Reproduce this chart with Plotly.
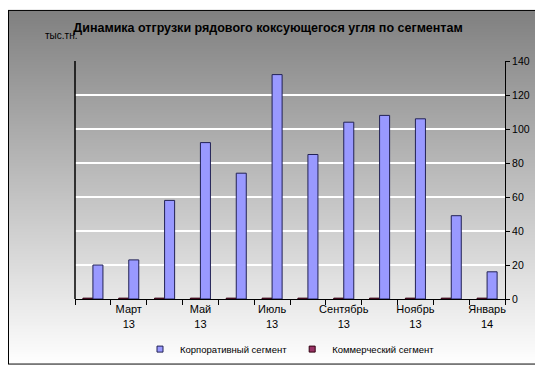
import base64, struct, zlib
import plotly.graph_objects as go

categories = ["Февраль 13", "Март 13", "Апрель 13", "Май 13", "Июнь 13", "Июль 13",
              "Август 13", "Сентябрь 13", "Октябрь 13", "Ноябрь 13", "Декабрь 13", "Январь 14"]
tick_text = ["", "Март<br>13", "", "Май<br>13", "", "Июль<br>13",
             "", "Сентябрь<br>13", "", "Ноябрь<br>13", "", "Январь<br>14"]
corporate = [20, 23, 58, 92, 74, 132, 85, 104, 108, 106, 49, 16]
commercial = [0.5, 0.5, 0.5, 0.5, 0.5, 0.5, 0.5, 0.5, 0.5, 0.5, 0.5, 0.5]
y_ticks = [0, 20, 40, 60, 80, 100, 120, 140]

W, H = 543, 368
ML, MR, MT, MB = 67, 46, 53, 68
PW, PH = W - ML - MR, H - MT - MB

CORP_COLOR, CORP_LINE = "#9999FF", "#222255"
COMM_COLOR, COMM_LINE = "#993366", "#330011"


def make_bg_png(w, h):
    rows = []
    for y in range(h):
        g = int(round(128 + 127 * y / (h - 1)))
        if y == 0 or y == h - 1:
            row = bytes([0, 0, 0]) * w
        else:
            row = bytes([0, 0, 0]) + bytes([g, g, g]) * (w - 2) + bytes([0, 0, 0])
        rows.append(b"\x00" + row)
    raw = b"".join(rows)

    def chunk(tag, data):
        c = struct.pack(">I", len(data)) + tag + data
        return c + struct.pack(">I", zlib.crc32(tag + data) & 0xFFFFFFFF)

    png = b"\x89PNG\r\n\x1a\n"
    png += chunk(b"IHDR", struct.pack(">IIBBBBB", w, h, 8, 2, 0, 0, 0))
    png += chunk(b"IDAT", zlib.compress(raw, 9))
    png += chunk(b"IEND", b"")
    return "data:image/png;base64," + base64.b64encode(png).decode()


fig = go.Figure()
fig.add_trace(go.Bar(
    x=categories, y=commercial, name="Коммерческий сегмент",
    marker=dict(color=COMM_COLOR, line=dict(color=COMM_LINE, width=1)),
    showlegend=False,
))
fig.add_trace(go.Bar(
    x=categories, y=corporate, name="Корпоративный сегмент",
    marker=dict(color=CORP_COLOR, line=dict(color=CORP_LINE, width=1)),
    showlegend=False,
))
# legend entries with small square symbols
fig.add_trace(go.Scatter(
    x=[None], y=[None], mode="markers", name="Корпоративный сегмент",
    marker=dict(symbol="square", size=6, color=CORP_COLOR, line=dict(color=CORP_LINE, width=1)),
    legendrank=1,
))
fig.add_trace(go.Scatter(
    x=[None], y=[None], mode="markers", name="Коммерческий сегмент",
    marker=dict(symbol="square", size=6, color=COMM_COLOR, line=dict(color=COMM_LINE, width=1)),
    legendrank=2,
))

font_family = "Liberation Sans, Arial, sans-serif"

fig.update_layout(
    width=W, height=H,
    margin=dict(l=ML, r=MR, t=MT, b=MB, pad=0),
    paper_bgcolor="rgba(0,0,0,0)",
    plot_bgcolor="rgba(0,0,0,0)",
    barmode="group",
    bargap=0.44,
    bargroupgap=0.0,
    font=dict(family=font_family, size=10, color="black"),
    title=dict(
        text="<b>Динамика отгрузки рядового коксующегося угля по сегментам</b>",
        x=260 / W, xref="container", xanchor="center",
        y=1 - 20 / H, yref="container", yanchor="middle",
        font=dict(size=12.5, color="black", family=font_family),
    ),
    xaxis=dict(
        type="category",
        tickmode="array", tickvals=categories, ticktext=tick_text,
        tickson="boundaries", ticks="outside", ticklen=5, tickcolor="black",
        tickangle=0,
        showline=True, linecolor="black", linewidth=1,
        showgrid=False, zeroline=False,
        range=[-0.5, 11.5],
        tickfont=dict(size=11, color="black"),
        fixedrange=True,
    ),
    yaxis=dict(
        side="right", range=[0, 140], tickvals=y_ticks,
        ticks="outside", ticklen=4, tickcolor="black",
        showline=True, linecolor="black", linewidth=1,
        showgrid=True, gridcolor="white", gridwidth=1.5,
        zeroline=False,
        tickfont=dict(size=10.5, color="black"),
        fixedrange=True,
    ),
    legend=dict(
        orientation="h", x=0.5, xanchor="center",
        y=-(352 - (H - MB)) / PH, yanchor="middle",
        font=dict(size=9.5, color="black", family=font_family),
        bgcolor="rgba(0,0,0,0)",
        itemwidth=30,
    ),
    showlegend=True,
    images=[dict(
        source=make_bg_png(W, H), xref="paper", yref="paper",
        x=-ML / PW, y=1 + MT / PH, sizex=W / PW, sizey=H / PH,
        xanchor="left", yanchor="top", sizing="stretch", layer="below",
    )],
    shapes=[dict(
        type="line", xref="paper", yref="paper", x0=0, x1=0, y0=0, y1=1,
        line=dict(color="black", width=1.5),
    )],
    annotations=[dict(
        text="тыс.тн.", xref="paper", yref="paper",
        x=(35 - ML) / PW, xanchor="left",
        y=(H - MB - 27) / PH, yanchor="middle",
        showarrow=False, font=dict(size=10, color="black", family=font_family),
    )],
)

fig.write_html("out.html")
